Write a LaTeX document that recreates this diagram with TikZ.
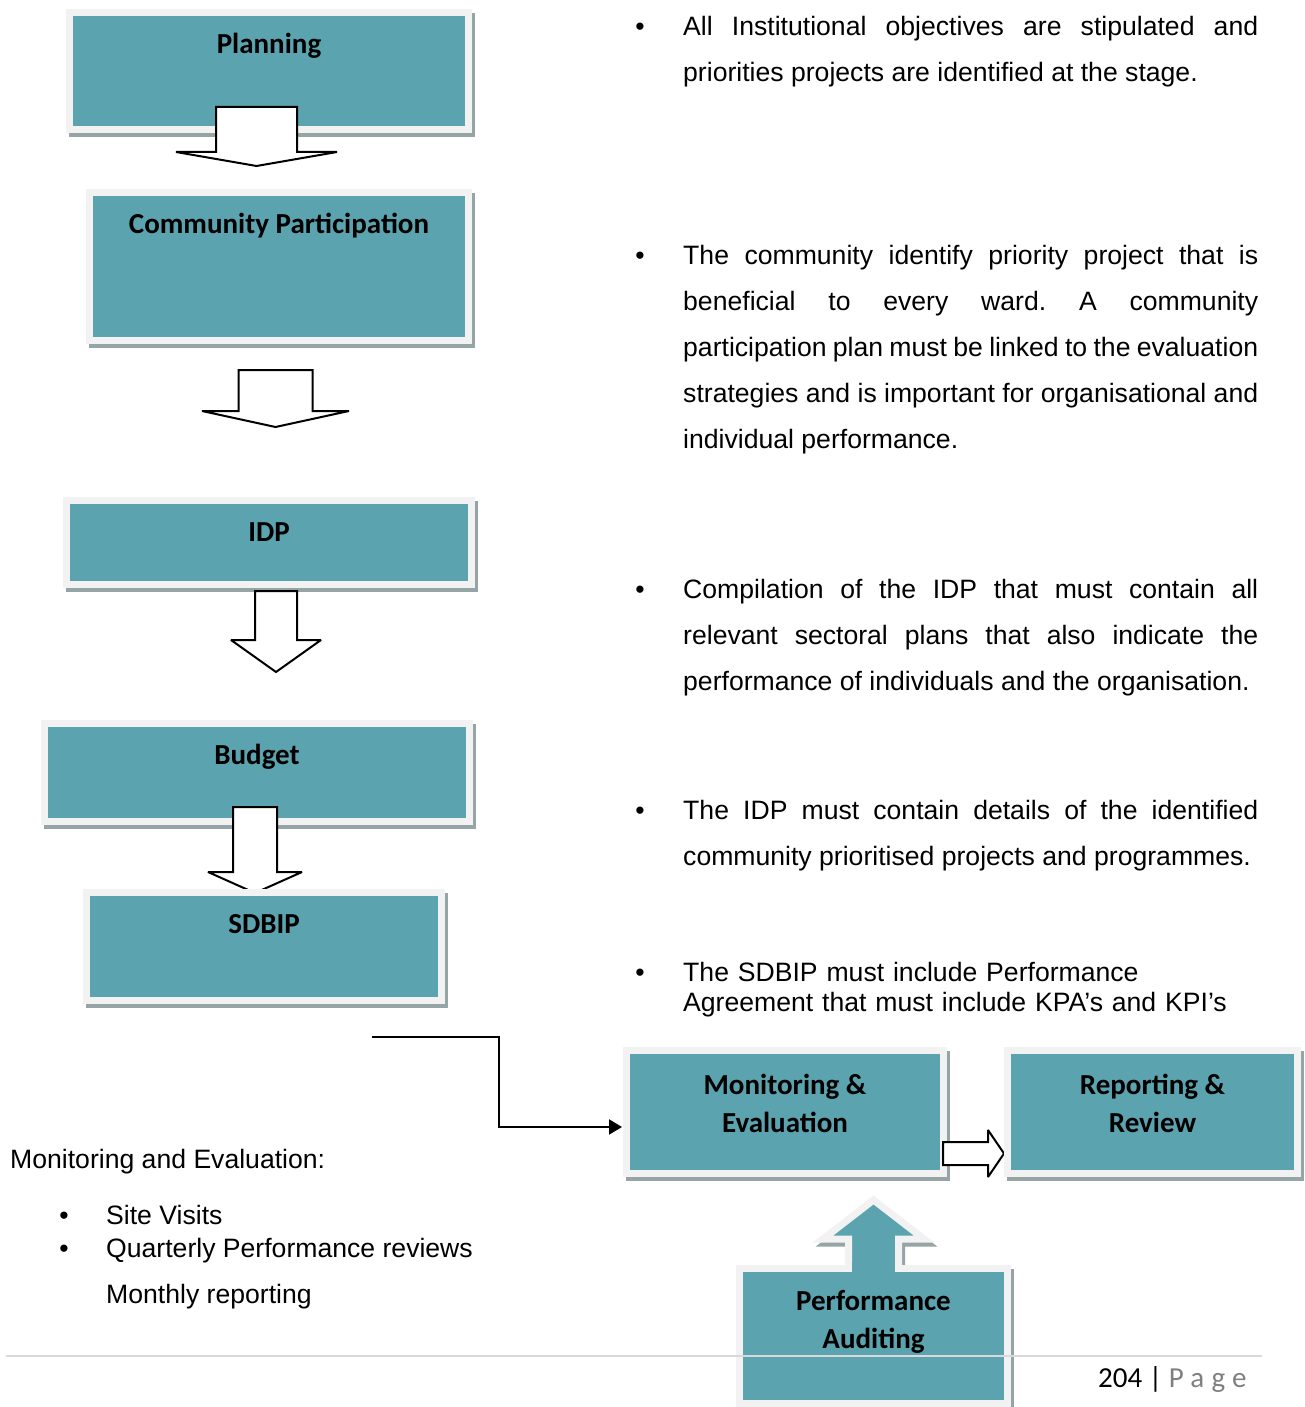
\documentclass[tikz,border=0pt]{standalone}
\usepackage{fontspec}
\setmainfont{Liberation Sans}
\newfontfamily\calibri{Carlito}
\usepackage{xcolor}
\usetikzlibrary{positioning,arrows.meta,calc}
\definecolor{boxTeal}{HTML}{5BA3AF}
\definecolor{boxFrame}{HTML}{F2F2F2}
\definecolor{boxShadow}{HTML}{95A5A6}
\definecolor{footGray}{HTML}{7F7F7F}
\definecolor{ruleGray}{HTML}{D9D9D9}
\frenchspacing

\tikzset{
  stagebox/.style={draw=boxFrame, fill=boxTeal, line width=7pt, inner sep=0pt,
    preaction={draw=boxShadow, fill=boxShadow, line width=7pt,
      transform canvas={xshift=3pt,yshift=-4pt}}},
  stagetitle/.style={font=\calibri\bfseries\fontsize{29}{38}\selectfont, align=center, inner sep=0pt},
  hollow/.style={draw=black, fill=white, line width=2pt, miter limit=3},
  descpara/.style={text width=575pt, align=justify, inner sep=0pt, anchor=north west,
    font=\fontsize{26.6}{46}\selectfont},
  itemdot/.style={inner sep=0pt, anchor=base, font=\fontsize{26.6}{46}\selectfont},
  bodytext/.style={inner sep=0pt, anchor=base west, font=\fontsize{26.6}{46}\selectfont},
  conn/.style={line width=2pt, -{Triangle[length=13pt,width=15pt]}},
  pics/dnarrow/.style n args={4}{code={
    \draw[hollow] (-#1,0) -- (#1,0) -- (#1,#3) -- (#2,#3) -- (0,#4) -- (-#2,#3) -- (-#1,#3) -- cycle;}},
  pics/rtarrow/.style n args={4}{code={
    \draw[hollow] (0,-#1) -- (#3,-#1) -- (#3,-#2) -- (#4,0) -- (#3,#2) -- (#3,#1) -- (0,#1) -- cycle;}}
}

\begin{document}
\begin{tikzpicture}[x=1pt, y=-1pt]
  \useasboundingbox (0,0) rectangle (1304,1407);

  % left column of stages
  \node[stagebox, minimum width=399pt, minimum height=117pt] (plan) at (269,71) {};
  \node[stagetitle, anchor=base] (planT) at ([yshift=-44.5pt]plan.north) {Planning};
  \pic (arrA) at (256.5,107) {dnarrow={40.5}{80.5}{45}{59}};

  \node[stagebox, minimum width=379pt, minimum height=148pt] (comm) at (279,266.5) {};
  \node[stagetitle, anchor=base] (commT) at ([yshift=-44.5pt]comm.north) {Community Participation};
  \pic (arrB) at (275.5,370) {dnarrow={37}{73.5}{41}{57}};

  \node[stagebox, minimum width=405pt, minimum height=84pt] (idp) at (269,542.5) {};
  \node[stagetitle, anchor=base] (idpT) at ([yshift=-44.5pt]idp.north) {IDP};
  \pic (arrC) at (276,591) {dnarrow={21}{45}{49}{81}};

  \node[stagebox, minimum width=425pt, minimum height=98pt] (budget) at (257,772.5) {};
  \node[stagetitle, anchor=base] (budgetT) at ([yshift=-44.5pt]budget.north) {Budget};
  \pic (arrD) at (255,807) {dnarrow={22}{47}{65}{86}};

  \node[stagebox, minimum width=355pt, minimum height=108pt] (sdbip) at (264,946.5) {};
  \node[stagetitle, anchor=base] (sdbipT) at ([yshift=-44.5pt]sdbip.north) {SDBIP};

  % bottom row
  \node[stagebox, minimum width=317pt, minimum height=123pt] (mon) at (785,1112) {};
  \node[stagetitle] (monT) at ([yshift=-56.5pt]mon.north) {Monitoring \&\\Evaluation};
  \pic (arrE) at (943,1153.5) {rtarrow={11.5}{23.5}{45}{61}};

  \node[stagebox, minimum width=290pt, minimum height=123pt] (rep) at (1152.5,1112) {};
  \node[stagetitle] (repT) at ([yshift=-56.5pt]rep.north) {Reporting \&\\Review};

  \draw[stagebox] (848.5,1280) -- (848.5,1239) -- (823,1239) -- (873.5,1200)
    -- (924,1239) -- (898.5,1239) -- (898.5,1280) -- cycle;
  \node[stagebox, minimum width=268pt, minimum height=135pt] (audit) at (873.5,1336) {};
  \fill[boxTeal] (852,1262) rectangle (895,1276);
  \node[stagetitle] (auditT) at ([yshift=-57pt]audit.north) {Performance\\Auditing};

  \coordinate (monIn) at (372,1037);
  \draw[conn] (monIn) -- ++(127,0) |- ([xshift=-1pt,yshift=-15pt]mon.west);

  % notes on the right
  \node[itemdot] (dotA) at (640,35.5) {•};
  \node[descpara] (noteA) at (683,3.3) {\strut All Institutional objectives are stipulated and\linebreak
    priorities projects are identified at the stage.};
  \node[itemdot] (dotB) at (640,264.5) {•};
  \node[descpara] (noteB) at (683,232.3) {\strut The community identify priority project that is\linebreak
    beneficial to every ward. A community\linebreak
    participation plan must be linked to the evaluation\linebreak
    strategies and is important for organisational and\linebreak
    individual performance.};
  \node[itemdot] (dotC) at (640,598.5) {•};
  \node[descpara] (noteC) at (683,566.3) {\strut Compilation of the IDP that must contain all\linebreak
    relevant sectoral plans that also indicate the\linebreak
    performance of individuals and the organisation.};
  \node[itemdot] (dotD) at (640,819.5) {•};
  \node[descpara] (noteD) at (683,787.3) {\strut The IDP must contain details of the identified\linebreak
    community prioritised projects and programmes.};
  \node[itemdot] (dotE) at (640,981.5) {•};
  \node[descpara, align=left, font=\fontsize{26.6}{30}\selectfont] (noteE) at (683,960.5)
    {\strut The SDBIP must include Performance\\Agreement that must include KPA’s and KPI’s};

  % monitoring list
  \node[bodytext] (meHead) at (10,1168) {Monitoring and Evaluation:};
  \node[itemdot] (meDotA) at (64,1224) {•};
  \node[bodytext] (meA) at (106,1224) {Site Visits};
  \node[itemdot] (meDotB) at (64,1257) {•};
  \node[bodytext] (meB) at (106,1257) {Quarterly Performance reviews};
  \node[bodytext] (meC) at (106,1303) {Monthly reporting};

  % footer
  \draw[ruleGray, line width=1.5pt] (6,1356) -- (1262,1356);
  \node[inner sep=0pt, anchor=base west, font=\calibri\fontsize{29}{34}\selectfont] (pageNo) at (1098,1387)
    {204 | \textcolor{footGray}{\addfontfeature{LetterSpace=25}Page}};
\end{tikzpicture}
\end{document}
